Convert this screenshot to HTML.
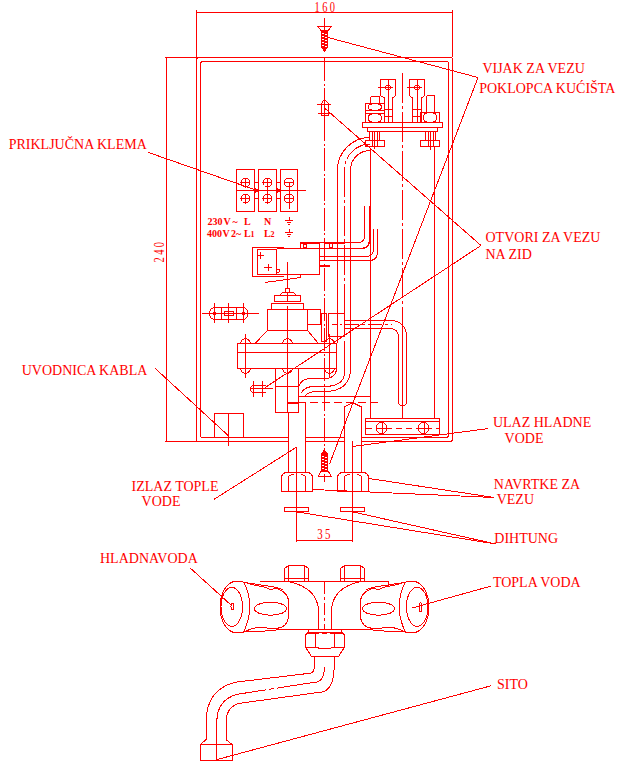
<!DOCTYPE html>
<html><head><meta charset="utf-8"><style>
html,body{margin:0;padding:0;background:#fff;width:623px;height:764px;overflow:hidden}
svg{display:block}
text{font-family:"Liberation Serif",serif;fill:#f00;stroke:none}
</style></head><body>
<svg width="623" height="764" viewBox="0 0 623 764">
<g fill="none" stroke="#f00" stroke-width="1" shape-rendering="crispEdges">
<line x1="196" y1="12.5" x2="452" y2="12.5"/>
<text x="0" y="0" font-size="14.5" transform="translate(326,12) scale(0.72,1)" text-anchor="middle" letter-spacing="3.5">160</text>
<line x1="196.5" y1="10" x2="196.5" y2="57"/>
<line x1="452.5" y1="10" x2="452.5" y2="57"/>
<line x1="166.5" y1="57" x2="166.5" y2="442"/>
<line x1="165" y1="57.5" x2="197" y2="57.5"/>
<line x1="165" y1="441.5" x2="197" y2="441.5"/>
<text x="0" y="0" font-size="14.5" transform="translate(164,251) rotate(-90) scale(0.72,1)" text-anchor="middle" letter-spacing="3.5">240</text>
<path d="M196.5,60 L196.5,439 Q196.5,441.5 199,441.5 L289,441.5 M305,441.5 L345,441.5 M361,441.5 L450,441.5 Q452.5,441.5 452.5,439 L452.5,60 Q452.5,57.5 450,57.5 L199,57.5 Q196.5,57.5 196.5,60"/>
<path d="M200.5,64 L200.5,435 Q200.5,437.5 203,437.5 L289,437.5 M305,437.5 L345,437.5 M361,437.5 L446,437.5 Q448.5,437.5 448.5,435 L448.5,64 Q448.5,61.5 446,61.5 L203,61.5 Q200.5,61.5 200.5,64"/>
<line x1="324.5" y1="18" x2="324.5" y2="30"/>
<line x1="324.5" y1="58" x2="324.5" y2="482" stroke-dasharray="23 2.5 2 2.5"/>
<line x1="324.5" y1="96" x2="324.5" y2="118"/>
<path d="M318,26.5 L331.5,26.5 L328,30.5 L321,30.5 Z"/>
<rect x="321.5" y="30.5" width="6" height="16.5" fill="#f00"/>
<path d="M321.5,47 L324.5,51.5 L327.5,47" fill="#f00"/>
<line x1="322" y1="33.5" x2="324" y2="33.5" stroke="#fff"/>
<line x1="325" y1="34.5" x2="327" y2="34.5" stroke="#fff"/>
<line x1="322" y1="36.5" x2="324" y2="36.5" stroke="#fff"/>
<line x1="325" y1="37.5" x2="327" y2="37.5" stroke="#fff"/>
<line x1="322" y1="39.5" x2="324" y2="39.5" stroke="#fff"/>
<line x1="325" y1="40.5" x2="327" y2="40.5" stroke="#fff"/>
<line x1="322" y1="42.5" x2="324" y2="42.5" stroke="#fff"/>
<line x1="325" y1="43.5" x2="327" y2="43.5" stroke="#fff"/>
<line x1="322" y1="45.5" x2="324" y2="45.5" stroke="#fff"/>
<line x1="325" y1="46.5" x2="327" y2="46.5" stroke="#fff"/>
<path d="M321.5,115 L321.5,104 Q322,101 324.5,100 Q327,101 328.5,104 L328.5,115 Z"/>
<line x1="317" y1="104.5" x2="331" y2="104.5"/>
<line x1="318" y1="113.5" x2="331" y2="113.5"/>
<rect x="236.5" y="169.5" width="18.0" height="41.5"/>
<circle cx="245.5" cy="182.5" r="4.5"/>
<line x1="241.0" y1="182.5" x2="250.0" y2="182.5"/>
<line x1="245.5" y1="178.0" x2="245.5" y2="187.0"/>
<circle cx="245.5" cy="198.5" r="4.5"/>
<line x1="241.0" y1="198.5" x2="250.0" y2="198.5"/>
<line x1="245.5" y1="194.0" x2="245.5" y2="203.0"/>
<rect x="258.5" y="169.5" width="18.0" height="41.5"/>
<circle cx="267.5" cy="182.5" r="4.5"/>
<line x1="263.0" y1="182.5" x2="272.0" y2="182.5"/>
<line x1="267.5" y1="178.0" x2="267.5" y2="187.0"/>
<circle cx="267.5" cy="198.5" r="4.5"/>
<line x1="263.0" y1="198.5" x2="272.0" y2="198.5"/>
<line x1="267.5" y1="194.0" x2="267.5" y2="203.0"/>
<line x1="267.5" y1="182.5" x2="267.5" y2="198.5"/>
<rect x="280.5" y="169.5" width="17.0" height="41.5"/>
<circle cx="289" cy="182.5" r="4.5"/>
<line x1="284.5" y1="182.5" x2="293.5" y2="182.5"/>
<circle cx="289" cy="198.5" r="4.5"/>
<line x1="284.5" y1="198.5" x2="293.5" y2="198.5"/>
<line x1="289" y1="182.5" x2="289" y2="209"/>
<line x1="236.5" y1="190.5" x2="305.7" y2="190.5"/>
<rect x="254.5" y="182.5" width="4" height="16"/>
<rect x="276.5" y="182.5" width="4" height="16"/>
<path d="M255,188 L258,190.5 L255,193 Z" fill="#f00"/>
<path d="M277,188 L280,190.5 L277,193 Z" fill="#f00"/>
<text x="207.5" y="225" font-size="10" font-weight="bold">230</text>
<text x="223.5" y="225" font-size="10" font-weight="bold">V</text>
<text x="232.5" y="225" font-size="10" font-weight="bold">~</text>
<text x="244" y="225" font-size="10" font-weight="bold">L</text>
<text x="264" y="225" font-size="10" font-weight="bold">N</text>
<text x="207" y="236.5" font-size="10" font-weight="bold">400</text>
<text x="222.5" y="236.5" font-size="10" font-weight="bold">V</text>
<text x="231" y="236.5" font-size="10" font-weight="bold">2~</text>
<text x="244" y="236.5" font-size="10" font-weight="bold">L</text>
<text x="250.5" y="236.5" font-size="8" font-weight="bold">1</text>
<text x="264" y="236.5" font-size="10" font-weight="bold">L</text>
<text x="270.5" y="236.5" font-size="8" font-weight="bold">2</text>
<line x1="289.5" y1="217" x2="289.5" y2="220"/>
<line x1="285" y1="220.5" x2="293" y2="220.5"/>
<line x1="287" y1="222.5" x2="291" y2="222.5"/>
<line x1="288" y1="224.5" x2="290" y2="224.5"/>
<line x1="289.5" y1="229" x2="289.5" y2="232"/>
<line x1="285" y1="232.5" x2="293" y2="232.5"/>
<line x1="287" y1="234.5" x2="291" y2="234.5"/>
<line x1="288" y1="236.5" x2="290" y2="236.5"/>
<rect x="362.5" y="122.5" width="80" height="5"/>
<rect x="367.5" y="127.5" width="70" height="4"/>
<line x1="402.5" y1="73" x2="402.5" y2="418" stroke-dasharray="30 3 3 3"/>
<path d="M380.5,79.5 L395.5,79.5 L395.5,95.5 L392.5,98 L392.5,109.5 L384.5,109.5 L384.5,98 L380.5,95.5 Z"/>
<line x1="388.0" y1="80" x2="388.0" y2="109"/>
<circle cx="388.0" cy="87.5" r="2.5"/>
<line x1="377.5" y1="87.5" x2="392.5" y2="87.5"/>
<rect x="384.5" y="109.5" width="8.0" height="13"/>
<line x1="384.5" y1="116.5" x2="392.5" y2="116.5"/>
<line x1="388.0" y1="109.5" x2="388.0" y2="122"/>
<path d="M409.5,79.5 L424.5,79.5 L424.5,95.5 L421.5,98 L421.5,109.5 L412.5,109.5 L412.5,98 L409.5,95.5 Z"/>
<line x1="417.0" y1="80" x2="417.0" y2="109"/>
<circle cx="417.0" cy="87.5" r="2.5"/>
<line x1="406.5" y1="87.5" x2="421.5" y2="87.5"/>
<rect x="412.5" y="109.5" width="9.0" height="13"/>
<line x1="412.5" y1="116.5" x2="421.5" y2="116.5"/>
<line x1="417.0" y1="109.5" x2="417.0" y2="122"/>
<path d="M370.5,103.5 L370.5,98 Q370.5,96.5 372,96.5 L378,96.5 Q379.5,96.5 379.5,98 L379.5,103.5"/>
<rect x="365.5" y="103.5" width="19.0" height="7.0"/>
<path d="M369.68,103.5 Q367.68,107.0 369.68,110.5 M380.32,103.5 Q382.32,107.0 380.32,110.5"/>
<path d="M369.68,104.5 Q375.0,103.0 380.32,104.5 M369.68,109.5 Q375.0,111.0 380.32,109.5"/>
<rect x="365.5" y="110.5" width="19" height="3"/>
<rect x="365.5" y="113.5" width="19.0" height="9.0"/>
<path d="M369.68,113.5 Q367.68,118.0 369.68,122.5 M380.32,113.5 Q382.32,118.0 380.32,122.5"/>
<path d="M369.68,114.5 Q375.0,113.0 380.32,114.5 M369.68,121.5 Q375.0,123.0 380.32,121.5"/>
<path d="M426.5,112.5 L426.5,97 Q426.5,95.5 428,95.5 L433,95.5 Q434.5,95.5 434.5,97 L434.5,112.5"/>
<rect x="420.5" y="112.5" width="19.0" height="10.0"/>
<path d="M424.68,112.5 Q422.68,117.5 424.68,122.5 M435.32,112.5 Q437.32,117.5 435.32,122.5"/>
<path d="M424.68,113.5 Q430.0,112.0 435.32,113.5 M424.68,121.5 Q430.0,123.0 435.32,121.5"/>
<rect x="365.5" y="140.5" width="19" height="6"/>
<rect x="420.5" y="140.5" width="19" height="6"/>
<rect x="369.5" y="131.5" width="10" height="9"/>
<rect x="425.5" y="131.5" width="10" height="9"/>
<line x1="374.5" y1="131" x2="374.5" y2="149"/>
<line x1="430.5" y1="131" x2="430.5" y2="150"/>
<line x1="372.5" y1="131.5" x2="372.5" y2="146"/>
<line x1="377.5" y1="131.5" x2="377.5" y2="146"/>
<line x1="428.5" y1="131.5" x2="428.5" y2="146"/>
<line x1="433.5" y1="131.5" x2="433.5" y2="146"/>
<path d="M337.5,314 L337.5,170 A32.5,32.5 0 0 1 370,137.5"/>
<path d="M344.5,314 L344.5,170 A26,26 0 0 1 370,144" stroke-dasharray="30 3 3 3"/>
<path d="M350.5,313 L350.5,170 A19.5,19.5 0 0 1 370,150.5"/>
<line x1="370.5" y1="148" x2="370.5" y2="418"/>
<line x1="434.5" y1="146.5" x2="434.5" y2="418"/>
<path d="M364.5,206 L364.5,236 Q364.5,242.5 358,242.5 L300,242.5"/>
<path d="M369.5,206 L369.5,240 Q369.5,248.5 361,248.5 L320,248.5" stroke-width="1.5"/>
<path d="M373.5,229 L373.5,249 Q373.5,256.5 365,256.5 L320,256.5"/>
<path d="M377.5,229 L377.5,252 Q377.5,260.5 369,260.5 L320,260.5"/>
<path d="M329.5,242.5 L329.5,247.5 L332.5,247.5 L332.5,242.5"/>
<path d="M344.5,320.5 L391.5,320.5 A15,15 0 0 1 406.5,335.5 L406.5,402 A4,4 0 0 1 398.5,402 L398.5,336.5 A8,8 0 0 0 390.5,328.5 L344.5,328.5"/>
<line x1="344.5" y1="324.5" x2="392" y2="324.5" stroke-dasharray="14 3 3 3"/>
<line x1="402.5" y1="334" x2="402.5" y2="418" stroke-dasharray="30 3 3 3"/>
<rect x="365.5" y="418.5" width="74" height="16"/>
<line x1="365.5" y1="421.5" x2="439.5" y2="421.5"/>
<circle cx="381.5" cy="428" r="5.5"/>
<line x1="376.0" y1="428.5" x2="387.0" y2="428.5"/>
<line x1="382.0" y1="422.5" x2="382.0" y2="434"/>
<circle cx="423.5" cy="428" r="5.5"/>
<line x1="418.0" y1="428.5" x2="429.0" y2="428.5"/>
<line x1="424.0" y1="422.5" x2="424.0" y2="434"/>
<line x1="366" y1="428.5" x2="439" y2="428.5" stroke-dasharray="6 4"/>
<line x1="352.5" y1="446.5" x2="352.5" y2="472"/>
<path d="M284,247.5 L252.5,247.5 L252.5,276.5 L284,276.5"/>
<rect x="257.5" y="249.5" width="19" height="25"/>
<path d="M276.5,248.5 L319.5,248.5 L319.5,274.5 L276.5,274.5"/>
<line x1="257" y1="255.5" x2="264" y2="255.5"/>
<line x1="260.5" y1="252" x2="260.5" y2="259"/>
<line x1="264" y1="267.5" x2="272" y2="267.5"/>
<line x1="268.5" y1="264" x2="268.5" y2="271"/>
<circle cx="278" cy="271" r="1.5"/>
<rect x="300.5" y="243.5" width="19" height="5"/>
<rect x="303.5" y="244.5" width="3" height="3"/>
<line x1="265" y1="282.5" x2="300.5" y2="277.5"/>
<line x1="300.5" y1="274.5" x2="300.5" y2="277.5"/>
<line x1="287.5" y1="262" x2="287.5" y2="289"/>
<rect x="285.5" y="288.5" width="4" height="3.5"/>
<path d="M280,295.5 L282.5,292.5 L293.5,292.5 L296,295.5"/>
<rect x="274.5" y="295.5" width="26" height="6"/>
<line x1="287.5" y1="292" x2="287.5" y2="301.5"/>
<rect x="271.5" y="303.5" width="32" height="6"/>
<rect x="267.5" y="309.5" width="40" height="21"/>
<rect x="307.5" y="309.5" width="13" height="15"/>
<line x1="319.5" y1="265.5" x2="329.5" y2="265.5" stroke-width="2"/>
<line x1="323.5" y1="243.5" x2="345" y2="243.5"/>
<line x1="323.5" y1="260.5" x2="345" y2="260.5"/>
<rect x="319.5" y="256" width="5" height="4"/>
<path d="M255,343.5 L267.5,330.5 M318.5,343.5 L307.5,330.5"/>
<rect x="237.5" y="343.5" width="99" height="25"/>
<line x1="237.5" y1="352.5" x2="336.5" y2="352.5"/>
<path d="M240.5,343.5 Q241.5,339 245.5,338.5 Q249.5,339 250.5,343.5"/>
<path d="M240.5,368.5 Q241.5,373 245.5,373.5 Q249.5,373 250.5,368.5"/>
<line x1="245.5" y1="334" x2="245.5" y2="378"/>
<path d="M282.5,343.5 Q283.5,339 287.5,338.5 Q291.5,339 292.5,343.5"/>
<path d="M282.5,368.5 Q283.5,373 287.5,373.5 Q291.5,373 292.5,368.5"/>
<line x1="287.5" y1="334" x2="287.5" y2="378"/>
<path d="M324.5,343.5 Q325.5,339 329.5,338.5 Q333.5,339 334.5,343.5"/>
<path d="M324.5,368.5 Q325.5,373 329.5,373.5 Q333.5,373 334.5,368.5"/>
<line x1="329.5" y1="334" x2="329.5" y2="378"/>
<rect x="275.5" y="368.5" width="23" height="18"/>
<rect x="275.5" y="386.5" width="23" height="26"/>
<line x1="287.5" y1="378" x2="287.5" y2="412"/>
<line x1="287.5" y1="306" x2="287.5" y2="334"/>
<line x1="287.5" y1="403.5" x2="298.5" y2="403.5"/>
<rect x="321.5" y="313.5" width="5" height="28"/>
<rect x="328.5" y="313.5" width="15.5" height="23"/>
<line x1="332" y1="324.5" x2="342" y2="324.5" stroke-dasharray="5 3"/>
<line x1="350.5" y1="313" x2="350.5" y2="368"/>
<line x1="337.5" y1="314" x2="337.5" y2="343"/>
<path d="M336.5,368 Q336.5,378.5 324,378.5 L312,378.5 Q298.5,378.5 298.5,390"/>
<path d="M344.5,341 L344.5,372 Q344.5,386.5 324,386.5 L314,386.5 Q305,386.5 301,393"/>
<path d="M350.5,368 Q350.5,391.5 324,391.5 L316,391.5 Q309,391.5 305,396"/>
<line x1="298.5" y1="396.5" x2="370" y2="396.5"/>
<line x1="298" y1="402.5" x2="382" y2="402.5" stroke-dasharray="8 4"/>
<rect x="287.5" y="402.5" width="11" height="10"/>
<line x1="202" y1="313.5" x2="258.5" y2="313.5"/>
<path d="M214,307.5 L243.5,307.5 A6,6.2 0 0 1 243.5,319.5 L214,319.5 A6,6.2 0 0 1 214,307.5"/>
<line x1="214.5" y1="303" x2="214.5" y2="322.5"/>
<line x1="221.5" y1="307.5" x2="221.5" y2="319.5"/>
<line x1="228.5" y1="303" x2="228.5" y2="322.5"/>
<line x1="236.5" y1="307.5" x2="236.5" y2="319.5"/>
<line x1="243.5" y1="303" x2="243.5" y2="322.5"/>
<rect x="224.5" y="311.5" width="9" height="4"/>
<circle cx="214.5" cy="313.5" r="1.5" fill="#f00"/>
<circle cx="243.5" cy="313.5" r="1.5" fill="#f00"/>
<path d="M254,385.5 L266,385.5 M266,392.5 L254,392.5 A3.5,3.5 0 0 1 254,385.5"/>
<line x1="250.5" y1="388.5" x2="272.5" y2="388.5"/>
<line x1="253.5" y1="380.5" x2="253.5" y2="397"/>
<line x1="262.5" y1="380.5" x2="262.5" y2="397"/>
<rect x="214.5" y="413.5" width="29" height="24"/>
<line x1="228.5" y1="413.5" x2="228.5" y2="446"/>
<line x1="288.5" y1="412" x2="288.5" y2="473"/>
<line x1="305.5" y1="402" x2="305.5" y2="473"/>
<line x1="296.5" y1="447" x2="296.5" y2="542"/>
<path d="M344.5,473 L344.5,407 L352.5,402.5 L361.5,407 L361.5,473"/>
<line x1="352.5" y1="441" x2="352.5" y2="542"/>
<path d="M281.5,491.5 L281.5,478 Q281.5,472.5 287.5,472.5 L306.5,472.5 Q312.5,472.5 312.5,478 L312.5,491.5 Z"/>
<path d="M288.5,491 L288.5,477 Q289.5,474.5 293.5,474.5 M305.5,491 L305.5,477 Q304.5,474.5 300.5,474.5"/>
<path d="M337.5,491.5 L337.5,478 Q337.5,472.5 343.5,472.5 L362.5,472.5 Q368.5,472.5 368.5,478 L368.5,491.5 Z"/>
<path d="M344.5,491 L344.5,477 Q345.5,474.5 349.5,474.5 M361.5,491 L361.5,477 Q360.5,474.5 356.5,474.5"/>
<rect x="284.5" y="507.5" width="24" height="4"/>
<rect x="340.5" y="507.5" width="24" height="4"/>
<line x1="296.5" y1="540.5" x2="352.5" y2="540.5"/>
<text x="0" y="0" font-size="14" transform="translate(325,538.5) scale(0.78,1)" text-anchor="middle" letter-spacing="3">35</text>
<rect x="321.5" y="454" width="6" height="17" fill="#f00"/>
<path d="M321.5,454 L324.5,450 L327.5,454" fill="#f00"/>
<path d="M318.5,476.5 L331.5,476.5 L328,471 L321,471 Z"/>
<line x1="322" y1="456.5" x2="324" y2="456.5" stroke="#fff"/>
<line x1="325" y1="457.5" x2="327" y2="457.5" stroke="#fff"/>
<line x1="322" y1="459.5" x2="324" y2="459.5" stroke="#fff"/>
<line x1="325" y1="460.5" x2="327" y2="460.5" stroke="#fff"/>
<line x1="322" y1="462.5" x2="324" y2="462.5" stroke="#fff"/>
<line x1="325" y1="463.5" x2="327" y2="463.5" stroke="#fff"/>
<line x1="322" y1="465.5" x2="324" y2="465.5" stroke="#fff"/>
<line x1="325" y1="466.5" x2="327" y2="466.5" stroke="#fff"/>
<line x1="322" y1="468.5" x2="324" y2="468.5" stroke="#fff"/>
<line x1="325" y1="469.5" x2="327" y2="469.5" stroke="#fff"/>
<line x1="324.5" y1="476" x2="324.5" y2="482"/>
<path d="M288.5,565.5 L304.5,565.5 L308.5,568.5 L308.5,581 L284.5,581 L284.5,568.5 Z"/>
<line x1="284.5" y1="578.5" x2="308.5" y2="578.5"/>
<line x1="288.5" y1="565.5" x2="288.5" y2="581"/>
<line x1="304.5" y1="565.5" x2="304.5" y2="581"/>
<path d="M344.5,565.5 L360.5,565.5 L364.5,568.5 L364.5,581 L340.5,581 L340.5,568.5 Z"/>
<line x1="340.5" y1="578.5" x2="364.5" y2="578.5"/>
<line x1="344.5" y1="565.5" x2="344.5" y2="581"/>
<line x1="360.5" y1="565.5" x2="360.5" y2="581"/>
<line x1="260" y1="581.5" x2="388.5" y2="581.5"/>
<line x1="388.5" y1="581.5" x2="388.5" y2="586"/>
<line x1="276" y1="629.5" x2="373" y2="629.5"/>
<line x1="324.5" y1="582" x2="324.5" y2="630" stroke-dasharray="12 3 3 3"/>
<path d="M288,581.5 C310,586 318.5,598 318.5,612 L318.5,629"/>
<path d="M361,581.5 C339,586 331.5,598 331.5,612 L331.5,629"/>
<g>
<path d="M373.8,588 Q376,589.5 378.9,589.5 Q385,586 391.9,585.9 L403.5,582.7 Q407,581.3 413,581.4"/>
<path d="M366,590 Q370,587.5 378,586.5 L404,582.5"/>
<path d="M373.8,588 Q360.5,592 360.5,601.8 L360.5,616.2 Q361,627 372.4,628.5 L378.9,629 Q384,627 389,627 Q398,628 405.6,632.4 L413,632.6"/>
<path d="M373.1,630.5 L404.9,632"/>
<path d="M404.9,582.7 Q393,607 405.6,632.4"/>
<path d="M413,581.4 A16,25.6 0 0 1 413,632.6"/>
<ellipse cx="417.2" cy="606.8" rx="10.8" ry="19.5"/>
<ellipse cx="378.5" cy="608.7" rx="16" ry="6.5"/>
</g>
<g transform="translate(649,0) scale(-1,1)">
<path d="M373.8,588 Q376,589.5 378.9,589.5 Q385,586 391.9,585.9 L403.5,582.7 Q407,581.3 413,581.4"/>
<path d="M366,590 Q370,587.5 378,586.5 L404,582.5"/>
<path d="M373.8,588 Q360.5,592 360.5,601.8 L360.5,616.2 Q361,627 372.4,628.5 L378.9,629 Q384,627 389,627 Q398,628 405.6,632.4 L413,632.6"/>
<path d="M373.1,630.5 L404.9,632"/>
<path d="M404.9,582.7 Q393,607 405.6,632.4"/>
<path d="M413,581.4 A16,25.6 0 0 1 413,632.6"/>
<ellipse cx="417.2" cy="606.8" rx="10.8" ry="19.5"/>
<ellipse cx="378.5" cy="608.7" rx="16" ry="6.5"/>
</g>
<ellipse cx="420.5" cy="607" rx="1.5" ry="4.5"/>
<ellipse cx="232.5" cy="606.5" rx="1.5" ry="3.5"/>
<rect x="308.5" y="629.5" width="33" height="2.5"/>
<path d="M308,632 L305.5,635 L305.5,647 L311.5,656.5 L338.5,656.5 L344.5,647 L344.5,635 L341.5,632"/>
<line x1="315.5" y1="634" x2="315.5" y2="647"/>
<line x1="334.5" y1="634" x2="334.5" y2="647"/>
<path d="M306,634 Q311,632 315.5,634 Q320,632 324.5,633.5 Q329,632 334.5,634 Q339,632 344,634"/>
<path d="M306,647 Q311,649 315.5,647 Q320,649 324.5,648.5 Q329,649 334.5,647 Q339,649 344,647"/>
<line x1="318.5" y1="622" x2="318.5" y2="629"/>
<line x1="331.5" y1="622" x2="331.5" y2="629"/>
<path d="M314.3,656.2 L314.3,668 Q314.3,673.6 306.9,673.6 L234.7,682.3 Q206.1,690 206.1,722 L206.1,739.6"/>
<path d="M324.3,667.4 Q324.3,682.3 314.3,682.3 L237.2,694.3 Q216.8,700 216.8,722 L216.8,739.6" stroke-dasharray="58 3 5 3 300"/>
<path d="M334.2,656 L334.2,665 Q334.2,692.3 319.3,692.3 L238.5,703.5 Q226,708 226,722 L226,739.6"/>
<path d="M206.1,739.6 L200.4,744.5 L232.2,744.5 L226,739.6"/>
<rect x="200.5" y="744.5" width="32" height="15.5"/>
<line x1="216.5" y1="740" x2="216.5" y2="760"/>
<line x1="328" y1="37.5" x2="478" y2="77.5"/>
<line x1="478" y1="77.5" x2="329.5" y2="464"/>
<line x1="324.5" y1="108" x2="481" y2="245.5"/>
<line x1="481" y1="245.5" x2="264.7" y2="387.8"/>
<line x1="148.5" y1="152.5" x2="257" y2="190.5"/>
<line x1="154.6" y1="367.9" x2="228.5" y2="435.8"/>
<line x1="214.2" y1="499.2" x2="296.8" y2="447"/>
<line x1="488.5" y1="428.5" x2="352.5" y2="446.5"/>
<line x1="369" y1="478.5" x2="494.3" y2="497.5"/>
<line x1="313" y1="489.5" x2="494.3" y2="497.5"/>
<line x1="297.4" y1="512" x2="495.8" y2="544"/>
<line x1="353.3" y1="512" x2="495.8" y2="544"/>
<line x1="190.4" y1="568.2" x2="231.5" y2="605.5"/>
<line x1="412" y1="608" x2="491.4" y2="586"/>
<line x1="217.3" y1="759.5" x2="491.4" y2="685.7"/>
<text x="8.7" y="149" font-size="14">PRIKLJUČNA KLEMA</text>
<text x="21.7" y="375" font-size="14">UVODNICA KABLA</text>
<text x="131.5" y="490.7" font-size="14">IZLAZ TOPLE</text>
<text x="141.6" y="506" font-size="14">VODE</text>
<text x="100" y="562.6" font-size="14">HLADNAVODA</text>
<text x="482.4" y="72.8" font-size="14">VIJAK ZA VEZU</text>
<text x="479.2" y="92.7" font-size="14">POKLOPCA KUĆIŠTA</text>
<text x="485.5" y="242.4" font-size="14">OTVORI ZA VEZU</text>
<text x="485.5" y="259" font-size="14">NA ZID</text>
<text x="492.9" y="427" font-size="14">ULAZ HLADNE</text>
<text x="504.6" y="442.6" font-size="14">VODE</text>
<text x="493.8" y="488.7" font-size="14">NAVRTKE ZA</text>
<text x="496.7" y="504.3" font-size="14">VEZU</text>
<text x="494.3" y="543" font-size="14">DIHTUNG</text>
<text x="492.9" y="587.1" font-size="14">TOPLA VODA</text>
<text x="497" y="688.8" font-size="14">SITO</text>
</g>
</svg>
</body></html>
